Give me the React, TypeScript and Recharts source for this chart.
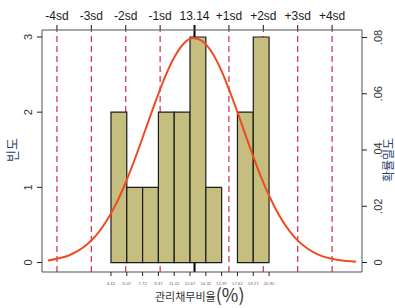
import React from "react";
import {
  ComposedChart,
  Line,
  ReferenceArea,
  ReferenceLine,
  XAxis,
  YAxis,
} from "recharts";

// histogram bins (관리채무비율 %)
const BIN_EDGES = [4.42, 6.07, 7.72, 9.37, 11.02, 12.67, 14.32, 15.97, 17.62, 19.27, 20.92];
const COUNTS = [2, 1, 1, 2, 2, 3, 1, 0, 2, 3];

// mean and ±k·sd guide lines (top axis)
const MEAN = 13.14;
const SD_POSITIONS = [-1.22, 2.37, 5.96, 9.55, 13.14, 16.73, 20.32, 23.91, 27.5];
const SD_LABELS = ["-4sd", "-3sd", "-2sd", "-1sd", "13.14", "+1sd", "+2sd", "+3sd", "+4sd"];

// normal density curve
const CURVE_X = [
  -2.15, -1, 0, 1, 2, 3, 4, 5, 6, 7, 8, 9, 10, 11, 12, 13, 14, 15, 16, 17, 18, 19, 20,
  21, 22, 23, 24, 25, 26, 27, 28, 29, 30,
];
const CURVE_Y = [
  0.0007, 0.0015, 0.0025, 0.0042, 0.0067, 0.0102, 0.015, 0.0212, 0.0288, 0.0376, 0.0471,
  0.0566, 0.0655, 0.0728, 0.0778, 0.0798, 0.0786, 0.0745, 0.0678, 0.0592, 0.0498, 0.0402,
  0.0311, 0.0232, 0.0166, 0.0114, 0.0075, 0.0048, 0.0029, 0.0017, 0.001, 0.0005, 0.0003,
];

const COUNT_TICKS = [0, 1, 2, 3];
const DENSITY_TICKS = [0, 0.02, 0.04, 0.06, 0.08];
const DENSITY_LABELS = ["0", ".02", ".04", ".06", ".08"];

const FONT = "'Liberation Sans', Arial, 'Noto Sans CJK KR', sans-serif";
const KFONT = "'Noto Sans CJK KR', 'Liberation Sans', sans-serif";
const BOX = "#505050";
const DASH = "#cf2d4b";
const BAR_FILL = "#c6be7e";
const CURVE = "#f04a22";
const TITLE_BLUE = "#2a3d70";

const curveData = CURVE_X.map((x, i) => ({ x, d: CURVE_Y[i] }));

// tick + label above the box for each sd guide line
function SdLabel({ viewBox, text, mean }: any) {
  if (!viewBox) return null;
  const x = viewBox.x;
  const top = viewBox.y;
  return (
    <g>
      <line x1={x} x2={x} y1={top - 5} y2={top} stroke="#111" strokeWidth={mean ? 2 : 1} />
      <text
        x={x}
        y={top - 10.5}
        textAnchor="middle"
        fontSize={12}
        fill="#1a1a1a"
        stroke="none"
        fontFamily={FONT}
      >
        {text}
      </text>
    </g>
  );
}

function BottomTick(props: any) {
  const { x, y, payload } = props;
  return (
    <g>
      <line x1={x} x2={x} y1={y - 4} y2={y} stroke="#222" strokeWidth={1} />
      <text
        x={x}
        y={y + 8.5}
        textAnchor="middle"
        fontSize={4.3}
        fill="#8a4d5a"
        stroke="none"
        fontFamily={FONT}
      >
        {payload.value.toFixed(2)}
      </text>
    </g>
  );
}

function LeftTick(props: any) {
  const { x, y, payload } = props;
  const bx = x - 5;
  return (
    <g>
      <line x1={x} x2={x + 5} y1={y} y2={y} stroke="#222" strokeWidth={1} />
      <text
        x={bx}
        y={y}
        transform={`rotate(-90 ${bx} ${y})`}
        textAnchor="middle"
        fontSize={11}
        fill="#333"
        stroke="none"
        fontFamily={FONT}
      >
        {payload.value}
      </text>
    </g>
  );
}

function RightTick(props: any) {
  const { x, y, index } = props;
  const bx = x + 15;
  return (
    <g>
      <line x1={x - 5} x2={x} y1={y} y2={y} stroke="#222" strokeWidth={1} />
      <text
        x={bx}
        y={y}
        transform={`rotate(-90 ${bx} ${y})`}
        textAnchor="middle"
        fontSize={11}
        fill="#333"
        stroke="none"
        fontFamily={FONT}
      >
        {DENSITY_LABELS[index]}
      </text>
    </g>
  );
}

export default function App() {
  const xDomain: [number, number] = [-2.78, 30.62];
  const countDomain: [number, number] = [-0.126, 3.093];
  return (
    <div style={{ position: "absolute", left: 0, top: 0, width: 395, height: 308, background: "#fff" }}>
      <ComposedChart
        width={395}
        height={308}
        margin={{ top: 30, right: 13, bottom: 16, left: 22 }}
      >
        <XAxis
          xAxisId="bin"
          type="number"
          dataKey="x"
          domain={xDomain}
          allowDataOverflow
          ticks={BIN_EDGES}
          interval={0}
          height={20}
          tickSize={4}
          tickMargin={0}
          tickLine={false}
          tick={<BottomTick />}
          axisLine={{ stroke: BOX, strokeWidth: 1 }}
          label={{
            content: () => (
              <text x={155} y={301} fill="#333" stroke="none" fontFamily={KFONT}>
                <tspan fontSize={11}>관리채무비율</tspan>
                <tspan fontSize={18} dy={1}>(%)</tspan>
              </text>
            ),
          }}
        />
        <YAxis
          yAxisId="count"
          type="number"
          domain={countDomain}
          allowDataOverflow
          ticks={COUNT_TICKS}
          interval={0}
          width={20}
          tickSize={5}
          tickMargin={0}
          tickLine={false}
          tick={<LeftTick />}
          axisLine={{ stroke: BOX, strokeWidth: 1 }}
          label={{
            content: () => (
              <text
                x={17}
                y={150}
                transform="rotate(-90 17 150)"
                textAnchor="middle"
                fontSize={13}
                fill={TITLE_BLUE}
                stroke="none"
                fontFamily={KFONT}
              >
                빈도
              </text>
            ),
          }}
        />
        <YAxis
          yAxisId="density"
          orientation="right"
          type="number"
          domain={[-0.00338, 0.08267]}
          allowDataOverflow
          ticks={DENSITY_TICKS}
          interval={0}
          width={20}
          tickSize={5}
          tickMargin={0}
          tickLine={false}
          tick={<RightTick />}
          axisLine={{ stroke: BOX, strokeWidth: 1 }}
          label={{
            content: () => (
              <text
                x={393}
                y={160}
                transform="rotate(-90 393 160)"
                textAnchor="middle"
                fontSize={12}
                fill={TITLE_BLUE}
                stroke="none"
                fontFamily={KFONT}
              >
                확률밀도
              </text>
            ),
          }}
        />

        {/* top edge of the box */}
        <ReferenceLine
          xAxisId="bin"
          yAxisId="count"
          y={countDomain[1]}
          stroke={BOX}
          strokeWidth={1}
          ifOverflow="extendDomain"
        />

        {SD_POSITIONS.map((v, i) =>
          v === MEAN ? (
            <ReferenceLine
              key={`sd-${v}`}
              xAxisId="bin"
              yAxisId="count"
              x={v}
              stroke="#000"
              strokeWidth={2}
              zIndex={100}
              label={<SdLabel text={SD_LABELS[i]} mean />}
            />
          ) : (
            <ReferenceLine
              key={`sd-${v}`}
              xAxisId="bin"
              yAxisId="count"
              x={v}
              stroke={DASH}
              strokeWidth={1.2}
              strokeDasharray="6 4"
              zIndex={100}
              label={<SdLabel text={SD_LABELS[i]} />}
            />
          ),
        )}

        {COUNTS.map((c, i) =>
          c > 0 ? (
            <ReferenceArea
              key={`bin-${i}`}
              xAxisId="bin"
              yAxisId="count"
              x1={BIN_EDGES[i]}
              x2={BIN_EDGES[i + 1]}
              y1={0}
              y2={c}
              fill={BAR_FILL}
              fillOpacity={1}
              stroke="#1a1a1a"
              strokeWidth={1.2}
              strokeOpacity={1}
              zIndex={200}
            />
          ) : null,
        )}

        <Line
          xAxisId="bin"
          yAxisId="density"
          data={curveData}
          dataKey="d"
          type="monotone"
          stroke={CURVE}
          strokeWidth={2}
          dot={false}
          activeDot={false}
          isAnimationActive={false}
          zIndex={400}
        />
      </ComposedChart>
    </div>
  );
}
